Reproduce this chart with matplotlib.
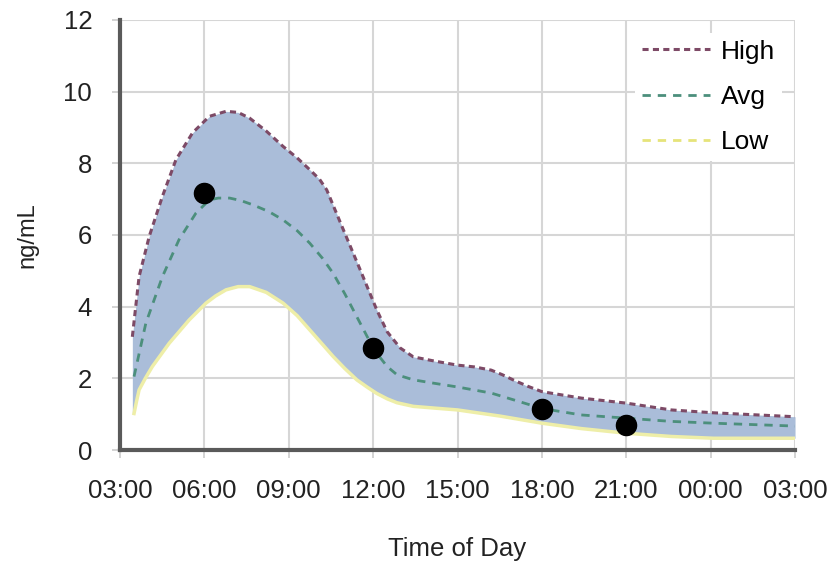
import numpy as np
import matplotlib.pyplot as plt
from matplotlib.ticker import FixedLocator

# hours after midnight, day continues past 24
high_x = [3.44, 3.68, 4.04, 4.51, 4.99, 5.58, 6.18, 6.77, 7.20, 7.61, 8.20, 8.80,
          9.30, 9.75, 10.10, 10.35, 10.94, 11.54, 12.13, 12.50, 12.96, 13.43, 14.2,
          15.0, 15.6, 16.2, 16.6, 17.0, 17.5, 18.0, 19.4, 21.0, 22.6, 24.1, 27.0]
high_y = [3.16, 4.84, 5.96, 7.08, 8.10, 8.85, 9.31, 9.45, 9.42, 9.26, 8.90, 8.47,
          8.15, 7.82, 7.55, 7.26, 6.15, 5.03, 3.91, 3.30, 2.85, 2.60, 2.48,
          2.37, 2.32, 2.23, 2.10, 1.95, 1.78, 1.63, 1.45, 1.31, 1.12, 1.04, 0.93]

avg_x = [3.50, 3.92, 4.51, 5.10, 5.70, 6.18, 6.50, 6.90, 7.30, 7.73, 8.30, 8.80,
         9.30, 9.75, 10.20, 10.58, 11.00, 11.42, 11.80, 12.13, 12.50, 12.85, 13.43,
         14.2, 15.0, 16.2, 17.0, 17.5, 18.0, 19.4, 21.0, 22.6, 24.1, 27.0]
avg_y = [2.05, 3.54, 4.84, 5.87, 6.61, 6.98, 7.03, 7.03, 6.96, 6.84, 6.65, 6.42,
         6.12, 5.77, 5.35, 4.93, 4.35, 3.72, 3.15, 2.70, 2.33, 2.10, 1.96,
         1.86, 1.76, 1.59, 1.40, 1.28, 1.16, 0.98, 0.89, 0.80, 0.75, 0.67]

low_x = [3.50, 3.60, 3.68, 3.90, 4.15, 4.75, 5.46, 6.06, 6.40, 6.77, 7.20, 7.61,
         8.20, 8.80, 9.30, 9.75, 10.20, 10.58, 11.00, 11.42, 11.80, 12.13, 12.50,
         12.85, 13.43, 14.2, 15.0, 16.5, 18.0, 19.4, 21.0, 22.6, 24.1, 27.0]
low_y = [1.02, 1.40, 1.68, 2.00, 2.33, 2.98, 3.63, 4.10, 4.30, 4.47, 4.56, 4.56,
         4.40, 4.10, 3.75, 3.35, 2.95, 2.61, 2.27, 1.96, 1.75, 1.58, 1.43,
         1.32, 1.22, 1.17, 1.12, 0.95, 0.75, 0.60, 0.47, 0.38, 0.33, 0.33]

sample_x = [6, 12, 18, 21]
sample_y = [7.17, 2.84, 1.14, 0.70]

tick_hours = [3, 6, 9, 12, 15, 18, 21, 24, 27]
tick_labels = ["03:00", "06:00", "09:00", "12:00", "15:00", "18:00", "21:00", "00:00", "03:00"]


def main():
    plt.rcParams["font.family"] = ["Liberation Sans Narrow", "Liberation Sans", "DejaVu Sans"]

    fig = plt.figure(figsize=(8.36, 5.69), dpi=100)
    ax = fig.add_axes([0.1435, 0.209, 0.8075, 0.756])

    # band between low and high
    band_x = sorted(set(high_x + low_x))
    hi = np.interp(band_x, high_x, high_y)
    lo = np.interp(band_x, low_x, low_y)
    ax.fill_between(band_x, lo, hi, color="#aabdd9", lw=0, zorder=2)

    ax.plot(high_x, high_y, color="#7d4a66", lw=2.2, ls=(0, (2, 1.4)), label="High", zorder=3)
    ax.plot(avg_x, avg_y, color="#4c8f7c", lw=2.0, ls=(0, (3, 2.5)), label="Avg", zorder=3)
    ax.plot(low_x, low_y, color="#eeeea8", lw=2.5, ls="-", zorder=3)
    ax.plot([], [], color="#e6e47a", lw=2.0, ls=(0, (3, 2.5)), label="Low")

    ax.scatter(sample_x, sample_y, s=210, color="black", zorder=4)

    ax.set_xlim(3, 27)
    ax.set_ylim(0, 12)
    ax.xaxis.set_major_locator(FixedLocator(tick_hours))
    ax.set_xticklabels(tick_labels)
    ax.set_yticks(range(0, 13, 2))

    ax.grid(True, color="#d6d6d6", lw=1.5, zorder=0)
    ax.set_axisbelow(True)
    for side in ["top", "right"]:
        ax.spines[side].set_visible(False)
    for side in ["left", "bottom"]:
        ax.spines[side].set_color("#5a5a5a")
        ax.spines[side].set_linewidth(3.0)
    ax.tick_params(axis="both", colors="#cccccc", labelcolor="#222222",
                   length=6, width=1.2)
    ax.tick_params(axis="x", labelsize=18.5, pad=15)
    ax.tick_params(axis="y", labelsize=18.5, pad=14)

    ax.set_xlabel("Time of Day", fontsize=18.5, color="#222222", labelpad=24)
    ax.set_ylabel("ng/mL", fontsize=17, color="#222222", labelpad=18)

    leg = ax.legend(loc="upper right", bbox_to_anchor=(1.0, 1.0), fontsize=19,
                    frameon=True, facecolor="white", edgecolor="none", framealpha=1,
                    handlelength=2.6, labelspacing=0.8, borderpad=0.25, handletextpad=0.4)
    leg.set_zorder(5)

    fig.savefig("out.png", dpi=100)


if __name__ == "__main__":
    main()
